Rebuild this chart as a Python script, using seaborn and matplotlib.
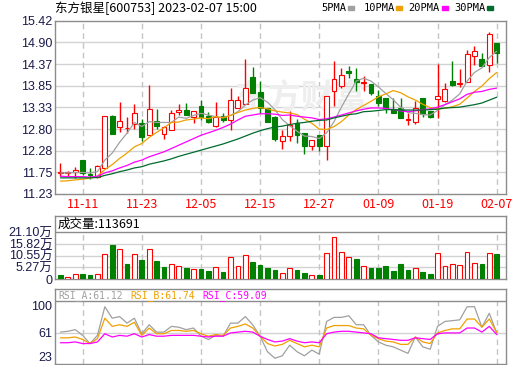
import numpy as np
import matplotlib
matplotlib.use('Agg')
import matplotlib.pyplot as plt
from matplotlib.patches import Rectangle
import seaborn as sns

# ---- data ----
dates = ['11-08', '11-09', '11-10', '11-11', '11-14', '11-15', '11-16', '11-17', '11-18', '11-21',
         '11-22', '11-23', '11-24', '11-25', '11-28', '11-29', '11-30', '12-01', '12-02', '12-05',
         '12-06', '12-07', '12-08', '12-09', '12-12', '12-13', '12-14', '12-15', '12-16', '12-19',
         '12-20', '12-21', '12-22', '12-23', '12-26', '12-27', '12-28', '12-29', '12-30', '01-03',
         '01-04', '01-05', '01-06', '01-09', '01-10', '01-11', '01-12', '01-13', '01-16', '01-17',
         '01-18', '01-19', '01-20', '01-30', '01-31', '02-01', '02-02', '02-03', '02-06', '02-07']
opens = [11.74, 11.74, 11.75, 12.06, 11.72, 11.65, 11.86, 13.12, 12.85, 12.82,
         12.92, 12.94, 12.65, 13.00, 12.69, 12.77, 13.21, 13.25, 13.09, 13.36,
         13.12, 12.88, 13.12, 13.02, 13.30, 13.40, 14.07, 13.70, 13.31, 13.09,
         12.51, 12.64, 12.94, 12.70, 12.39, 12.66, 12.38, 13.71, 13.83, 14.21,
         14.01, 13.92, 13.89, 13.60, 13.55, 13.28, 13.32, 13.03, 12.98, 13.55,
         13.23, 13.52, 13.48, 13.96, 13.90, 13.93, 14.56, 14.49, 14.35, 14.88]
highs = [11.98, 11.79, 11.89, 12.06, 11.85, 11.94, 13.12, 13.14, 13.46, 13.08,
         13.41, 13.05, 13.87, 13.29, 12.88, 13.26, 13.41, 13.44, 13.23, 13.51,
         13.22, 13.45, 13.20, 13.79, 13.59, 14.50, 14.31, 13.96, 13.31, 13.12,
         12.78, 13.24, 13.05, 12.70, 12.54, 12.66, 13.60, 14.45, 14.27, 14.33,
         14.27, 14.09, 13.89, 13.75, 13.55, 13.56, 13.56, 13.20, 13.48, 13.56,
         13.23, 14.37, 13.91, 14.44, 14.25, 14.72, 14.81, 14.65, 15.14, 14.89]
lows = [11.67, 11.66, 11.61, 11.69, 11.59, 11.61, 11.85, 12.67, 12.72, 12.70,
        12.80, 12.52, 12.65, 12.81, 12.57, 12.77, 13.13, 13.14, 12.94, 13.02,
        12.94, 12.86, 12.96, 12.78, 13.30, 13.40, 13.68, 13.18, 12.98, 12.50,
        12.32, 12.52, 12.46, 12.19, 12.30, 12.26, 12.04, 13.35, 13.79, 14.03,
        13.71, 13.71, 13.63, 13.35, 13.20, 13.18, 13.06, 12.89, 12.93, 13.10,
        13.06, 13.06, 13.46, 13.85, 13.81, 13.93, 14.35, 14.29, 14.18, 14.39]
closes = [11.76, 11.77, 11.80, 11.73, 11.68, 11.91, 13.12, 12.67, 13.00, 12.82,
          13.18, 12.62, 13.28, 12.88, 12.85, 13.18, 13.25, 13.14, 13.23, 13.09,
          12.97, 13.08, 13.02, 13.51, 13.51, 13.79, 13.68, 13.31, 12.98, 12.57,
          12.63, 12.89, 12.66, 12.38, 12.54, 12.38, 13.60, 14.01, 14.11, 14.15,
          13.93, 13.94, 13.67, 13.43, 13.31, 13.18, 13.06, 13.04, 13.32, 13.16,
          13.10, 13.61, 13.78, 13.87, 13.91, 14.61, 14.68, 14.33, 15.11, 14.65]
prev_close = 11.80

ma5 = [11.74, 11.74, 11.75, 11.75, 11.74, 11.77, 12.05, 12.22, 12.48, 12.70,
       12.96, 12.86, 12.98, 12.96, 12.96, 12.96, 13.09, 13.06, 13.13, 13.18,
       13.14, 13.10, 13.08, 13.13, 13.22, 13.38, 13.50, 13.56, 13.45, 13.27,
       13.03, 12.88, 12.75, 12.63, 12.62, 12.57, 12.71, 12.98, 13.33, 13.65,
       13.96, 14.03, 13.96, 13.82, 13.66, 13.51, 13.33, 13.20, 13.18, 13.15,
       13.14, 13.25, 13.39, 13.50, 13.65, 13.96, 14.17, 14.28, 14.53, 14.68]
ma10 = [11.54, 11.55, 11.57, 11.59, 11.61, 11.66, 11.82, 11.94, 12.09, 12.22,
        12.37, 12.45, 12.60, 12.72, 12.83, 12.96, 12.97, 13.02, 13.04, 13.07,
        13.05, 13.10, 13.07, 13.13, 13.20, 13.26, 13.30, 13.32, 13.29, 13.24,
        13.21, 13.19, 13.15, 13.04, 12.94, 12.80, 12.79, 12.86, 12.98, 13.14,
        13.27, 13.37, 13.47, 13.58, 13.65, 13.73, 13.68, 13.58, 13.50, 13.40,
        13.32, 13.29, 13.30, 13.34, 13.40, 13.55, 13.71, 13.84, 14.02, 14.17]
ma20 = [11.66, 11.65, 11.65, 11.65, 11.64, 11.66, 11.74, 11.79, 11.86, 11.92,
        12.00, 12.05, 12.13, 12.19, 12.25, 12.33, 12.41, 12.49, 12.57, 12.65,
        12.71, 12.77, 12.84, 12.92, 13.02, 13.11, 13.14, 13.17, 13.17, 13.16,
        13.13, 13.14, 13.11, 13.09, 13.07, 13.03, 13.05, 13.09, 13.14, 13.19,
        13.24, 13.28, 13.31, 13.31, 13.30, 13.27, 13.24, 13.22, 13.24, 13.27,
        13.29, 13.33, 13.39, 13.46, 13.53, 13.64, 13.69, 13.71, 13.76, 13.79]
ma30 = [11.62, 11.62, 11.62, 11.62, 11.62, 11.63, 11.68, 11.72, 11.77, 11.81,
        11.86, 11.89, 11.95, 11.99, 12.03, 12.08, 12.14, 12.19, 12.24, 12.29,
        12.34, 12.39, 12.44, 12.50, 12.56, 12.63, 12.70, 12.76, 12.81, 12.85,
        12.87, 12.91, 12.94, 12.96, 12.99, 13.01, 13.02, 13.07, 13.11, 13.15,
        13.17, 13.22, 13.23, 13.25, 13.27, 13.27, 13.26, 13.26, 13.26, 13.26,
        13.27, 13.28, 13.31, 13.32, 13.33, 13.36, 13.39, 13.43, 13.50, 13.57]

volume_wan = [1.80, 1.05, 2.10, 2.26, 1.80, 2.10, 11.15, 15.40, 13.40, 6.80,
              11.15, 8.60, 13.40, 8.10, 5.30, 6.60, 5.70, 5.00, 4.50, 4.50,
              3.60, 5.30, 3.20, 9.80, 5.70, 10.70, 7.70, 6.30, 5.00, 4.10,
              2.60, 4.80, 4.10, 2.70, 1.66, 1.80, 11.60, 18.80, 12.10, 9.80,
              9.00, 5.70, 5.00, 5.00, 5.90, 3.60, 6.80, 4.10, 4.80, 3.20,
              2.30, 11.60, 5.70, 6.80, 6.20, 12.10, 7.20, 6.80, 11.60, 11.3691]
last_volume = 113691

rsi_a = [62, 63, 65, 58, 48, 58, 93, 79, 81, 73, 79, 60, 71, 62, 62, 69, 68, 65, 67, 57,
         53, 58, 57, 73, 73, 81, 71, 57, 38, 30, 33, 46, 38, 33, 40, 35, 75, 80, 80, 82,
         71, 71, 58, 50, 46, 44, 40, 36, 56, 44, 41, 69, 75, 76, 77, 93, 93, 68, 85, 61.12]
rsi_b = [55, 55, 56, 53, 48, 54, 79, 69, 71, 69, 74, 58, 67, 60, 60, 64, 64, 63, 64, 60,
         57, 59, 58, 67, 69, 72, 67, 57, 48, 45, 47, 52, 48, 44, 46, 44, 67, 70, 70, 70,
         67, 66, 58, 54, 51, 50, 47, 47, 56, 50, 48, 61, 64, 66, 66, 78, 78, 68, 78, 61.74]
rsi_c = [49, 49, 50, 48, 48, 50, 60, 56, 58, 57, 60, 56, 59, 57, 57, 58, 58, 58, 58, 57,
         56, 57, 57, 61, 62, 63, 62, 57, 53, 50, 51, 54, 51, 49, 50, 49, 60, 62, 63, 63,
         62, 61, 60, 55, 54, 53, 52, 52, 55, 54, 53, 60, 61, 61, 61, 67, 67, 62, 69, 59.09]

price_ticks = [11.23, 11.75, 12.28, 12.80, 13.33, 13.85, 14.37, 14.90, 15.42]
vol_ticks = [0, 5.27, 10.55, 15.82, 21.10]
rsi_ticks = [23, 61, 100]
date_ticks = ['11-11', '11-23', '12-05', '12-15', '12-27', '01-09', '01-19', '02-07']
title = '东方银星[600753] 2023-02-07 15:00'

# ---- styling ----
sns.set_theme(style='white')
plt.rcParams['font.family'] = ['Liberation Sans', 'Noto Sans CJK SC']
CJK = ['Noto Sans CJK SC', 'DejaVu Sans']
MONO = ['DejaVu Sans Mono', 'Noto Sans CJK SC']

RED = '#ff0000'
GREEN = '#008000'
MA_COLORS = ['#a0a0a0', '#f0a000', '#ff00ff', '#006b2e']
FRAME = '#8c8c8c'
GRID = '#d2d2d2'
DASH = '#c4c4c4'
NAVY = '#1a1a4a'

W, H = 520, 365
fig = plt.figure(figsize=(W / 100, H / 100), dpi=100)
fig.patch.set_facecolor('white')


def px_axes(x0, y0, x1, y1):
    return fig.add_axes([x0 / W, 1 - y1 / H, (x1 - x0) / W, (y1 - y0) / H])


ax = px_axes(55, 20.7, 505.7, 194)
axv = px_axes(55, 215.7, 505.7, 279)
axr = px_axes(55, 289, 505.7, 364)

x = np.arange(len(dates))
o = np.array(opens)
c = np.array(closes)
candle_up = c >= o
vol_up = c >= np.r_[prev_close, c[:-1]]
tick_pos = [dates.index(d) for d in date_ticks]
xlim = (-0.74, 60.22)

for a in (ax, axv, axr):
    a.set_xlim(*xlim)
    for s in a.spines.values():
        s.set_color(FRAME)
        s.set_linewidth(1)
    a.tick_params(length=0, pad=2, labelsize=9, labelcolor=NAVY)
    a.set_xticks([])

# ---- price panel ----
ax.set_ylim(11.23, 15.42)
ax.set_yticks(price_ticks)
ax.set_yticklabels([f'{v:.2f}' for v in price_ticks])
for v in price_ticks[1:-1]:
    ax.axhline(v, color=GRID, lw=1, zorder=0)
for p in tick_pos:
    ax.axvline(p, color=DASH, lw=1, ls=(0, (4, 3)), zorder=0)

# faint watermark
ax.text(0.545, 0.55, '东方财富', transform=ax.transAxes, ha='center', va='center',
        fontsize=24, color='#eeeeee', family=CJK, fontweight='bold', zorder=0)

ax.vlines(x, lows, highs, colors=np.where(candle_up, RED, GREEN), lw=1, zorder=2)
body = np.maximum(np.abs(c - o), 0.012)
ax.bar(x, body, bottom=np.minimum(o, c), width=0.66,
       color=np.where(candle_up, 'white', GREEN),
       edgecolor=np.where(candle_up, RED, GREEN), linewidth=0.8, zorder=3)

for series, col in zip([ma5, ma10, ma20, ma30], MA_COLORS):
    sns.lineplot(x=x, y=series, ax=ax, color=col, linewidth=0.9, zorder=4)
ax.set_ylabel('')

ax.set_xticks(tick_pos)
ax.set_xticklabels(date_ticks, color=RED, fontsize=9, family=CJK)
ax.tick_params(axis='x', pad=3)

fig.text(55 / W, 1 - 8 / H, title, ha='left', va='center', fontsize=9, family=CJK, color='black')

legend_items = [('5PMA', 321.7), ('10PMA', 363.3), ('20PMA', 408.3), ('30PMA', 454)]
for (lab, lx), col in zip(legend_items, MA_COLORS):
    fig.text(lx / W, 1 - 8 / H, lab, ha='left', va='center', fontsize=7.5,
             family=MONO, color='black')
for sx, col in zip([347.7, 396, 441.7, 487.3], MA_COLORS):
    fig.patches.append(Rectangle((sx / W, 1 - 9.5 / H), 6 / W, 3.5 / H,
                                 transform=fig.transFigure, color=col))

# ---- volume panel ----
axv.set_ylim(0, 28.6)
axv.set_yticks(vol_ticks)
axv.set_yticklabels(['0'] + [f'{v:.2f}万' for v in vol_ticks[1:]])
for v in vol_ticks[1:-1]:
    axv.axhline(v, color=GRID, lw=1, zorder=0)
axv.axhline(vol_ticks[-1], color=FRAME, lw=1, zorder=1)
axv.vlines(tick_pos, 0, vol_ticks[-1], colors=DASH, lw=1, linestyles=(0, (4, 3)), zorder=0)
axv.bar(x, volume_wan, width=0.64,
        color=np.where(vol_up, 'white', GREEN),
        edgecolor=np.where(vol_up, RED, GREEN), linewidth=0.8, zorder=3)
fig.text(58 / W, 1 - 224 / H, f'成交量:{last_volume}', ha='left', va='center',
         fontsize=9, family=CJK, color='black')

# ---- RSI panel ----
axr.set_ylim(23, 114.7)
axr.set_yticks(rsi_ticks)
axr.set_yticklabels([str(v) for v in rsi_ticks])
for lab in axr.get_yticklabels():
    if lab.get_text() == '100':
        lab.set_va('top')
    elif lab.get_text() == '23':
        lab.set_va('bottom')
axr.axhline(61, color=GRID, lw=1, zorder=0)
axr.axhline(100, color=FRAME, lw=1, zorder=1)
axr.vlines(tick_pos, 23, 100, colors=DASH, lw=1, linestyles=(0, (4, 3)), zorder=0)
for series, col in zip([rsi_a, rsi_b, rsi_c], MA_COLORS[:3]):
    sns.lineplot(x=x, y=series, ax=axr, color=col, linewidth=0.9, zorder=4)
axr.set_ylabel('')

rsi_heads = [('RSI_A', rsi_a[-1], 58), ('RSI_B', rsi_b[-1], 130), ('RSI_C', rsi_c[-1], 202)]
for (name, val, hx), col in zip(rsi_heads, MA_COLORS[:3]):
    fig.text(hx / W, 1 - 295.7 / H, f'{name}:{val:.2f}', ha='left', va='center',
             fontsize=7, family=MONO, color=col)

fig.savefig('out.png', dpi=100)
